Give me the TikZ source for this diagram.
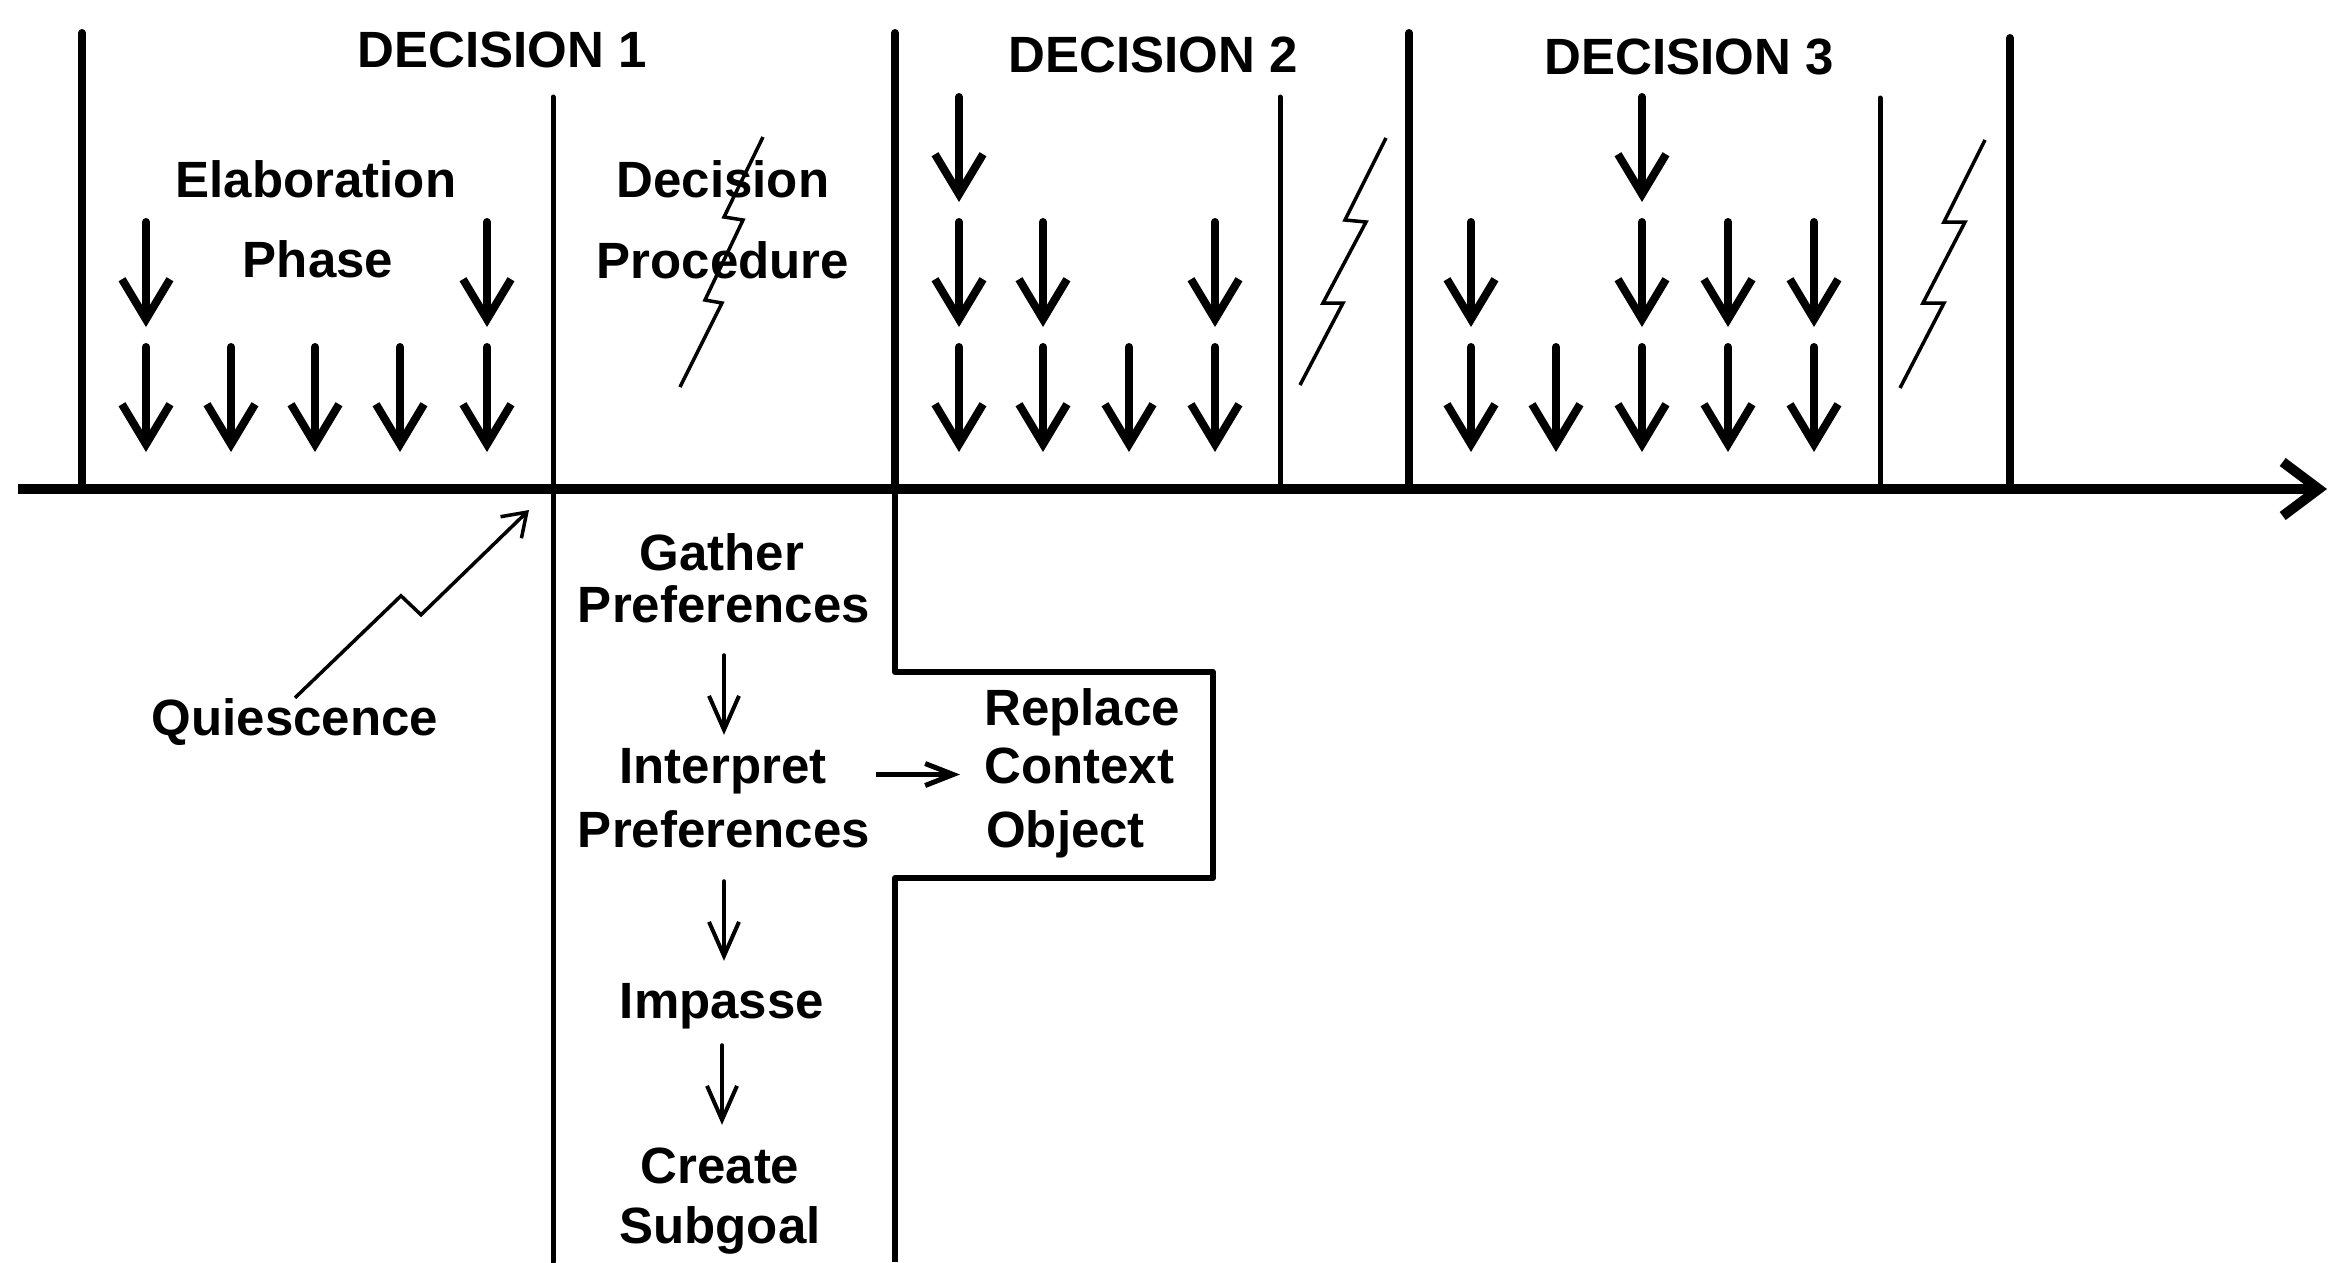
\documentclass[tikz,border=0pt]{standalone}
\usepackage{fontspec}
\setmainfont{Liberation Sans}
\usetikzlibrary{arrows.meta}
\begin{document}
\begin{tikzpicture}[x=1pt,y=-1pt,
  thickv/.style={line width=8pt,line cap=round},
  thinv/.style={line width=5pt,line cap=round},
  axisline/.style={line width=10pt,-{Straight Barb[length=36pt,width=54pt]}},
  bigarr/.style={line width=8pt,line cap=round,-{Straight Barb[length=40pt,width=48pt]}},
  smallarr/.style={line width=4pt,line cap=round,-{Straight Barb[length=34pt,width=30pt]}},
  medarr/.style={line width=5pt,-{Straight Barb[length=28pt,width=22pt]}},
  qarr/.style={line width=3.5pt,line join=miter,-{Straight Barb[length=22pt,width=30pt]}},
  bolt/.style={line width=3.5pt,line join=miter},
  boxline/.style={line width=6pt,line join=round},
  lbl/.style={font=\bfseries\fontsize{51pt}{60pt}\selectfont,inner sep=0pt,text height=37pt,text depth=0pt,anchor=base},
  lblw/.style={lbl,anchor=base west},
]
\useasboundingbox[fill=white] (0,0) rectangle (2331,1262);

% time axis and decision boundaries
\draw[thickv] (82,33) -- (82,489);
\draw[thickv] (895,33) -- (895,489);
\draw[thickv] (1409,33) -- (1409,489);
\draw[thickv] (2010,38) -- (2010,489);
\draw[thinv] (553,97) -- (553,1262);
\draw[thinv] (1280,97) -- (1280,489);
\draw[thinv] (1880,98) -- (1880,489);
\draw[axisline] (18,489) -- (2327,489);

% lower structure
\draw[boxline] (895,489) -- (895,672) -- (1213,672) -- (1213,878) -- (895,878) -- (895,1262);

% elaboration arrows
\foreach \x in {146,487} \draw[bigarr] (\x,222) -- (\x,327);
\foreach \x in {146,231,315,400,487} \draw[bigarr] (\x,347) -- (\x,452);
\foreach \x in {959} \draw[bigarr] (\x,97) -- (\x,202);
\foreach \x in {959,1043,1215} \draw[bigarr] (\x,222) -- (\x,327);
\foreach \x in {959,1043,1129,1215} \draw[bigarr] (\x,347) -- (\x,452);
\foreach \x in {1642} \draw[bigarr] (\x,97) -- (\x,202);
\foreach \x in {1471,1642,1728,1814} \draw[bigarr] (\x,222) -- (\x,327);
\foreach \x in {1471,1556,1642,1728,1814} \draw[bigarr] (\x,347) -- (\x,452);

% lightning bolts
\draw[bolt] (763,137) -- (724,217) -- (743,220) -- (705,300) -- (722,303) -- (680,387);
\draw[bolt] (1386,138) -- (1345,220) -- (1366,222) -- (1323,303) -- (1343,303) -- (1300,385);
\draw[bolt] (1985,140) -- (1944,222) -- (1965,222) -- (1923,303) -- (1944,303) -- (1900,388);

% labels
\node[lbl] (d1) at (502,67) {DECISION 1};
\node[lbl] (d2) at (1153,72) {DECISION 2};
\node[lbl] (d3) at (1689,74) {DECISION 3};
\node[lbl] (elab) at (316,197) {Elaboration};
\node[lbl] (phase) at (318,277) {Phase};
\node[lbl] (dec) at (723,197) {Decision};
\node[lbl] (proc) at (723,278) {Procedure};
\node[lbl] (quies) at (295,735) {Quiescence};
\node[lbl] (gath1) at (722,570) {Gather};
\node[lbl] (gath2) at (724,622) {Preferences};
\node[lbl] (interp1) at (723,783) {Interpret};
\node[lbl] (interp2) at (724,847) {Preferences};
\node[lbl] (impasse) at (722,1018) {Impasse};
\node[lbl] (create) at (720,1183) {Create};
\node[lbl] (subgoal) at (720,1243) {Subgoal};
\node[lblw] (repl) at (984,725) {Replace};
\node[lblw] (ctx) at (984,783) {Context};
\node[lblw] (obj) at (986,847) {Object};

% connectors
\coordinate (qend) at (529,510);
\draw[qarr] (quies.north) -- ++(106,-102) -- ++(20,19) -- (qend);
\draw[smallarr,shorten <=33pt,shorten >=11pt] (gath2.south) -- (gath2.south |- interp1.north);
\draw[smallarr,shorten <=34pt,shorten >=20pt] (interp2.south) -- (interp2.south |- impasse.north);
\draw[smallarr,shorten <=27pt,shorten >=21pt] (impasse.south) -- (impasse.south |- create.north);
\draw[medarr,shorten <=49pt,shorten >=24pt] ([yshift=-10pt]interp1.east) -- ([yshift=-10pt]interp1.east -| ctx.west);
\end{tikzpicture}
\end{document}
